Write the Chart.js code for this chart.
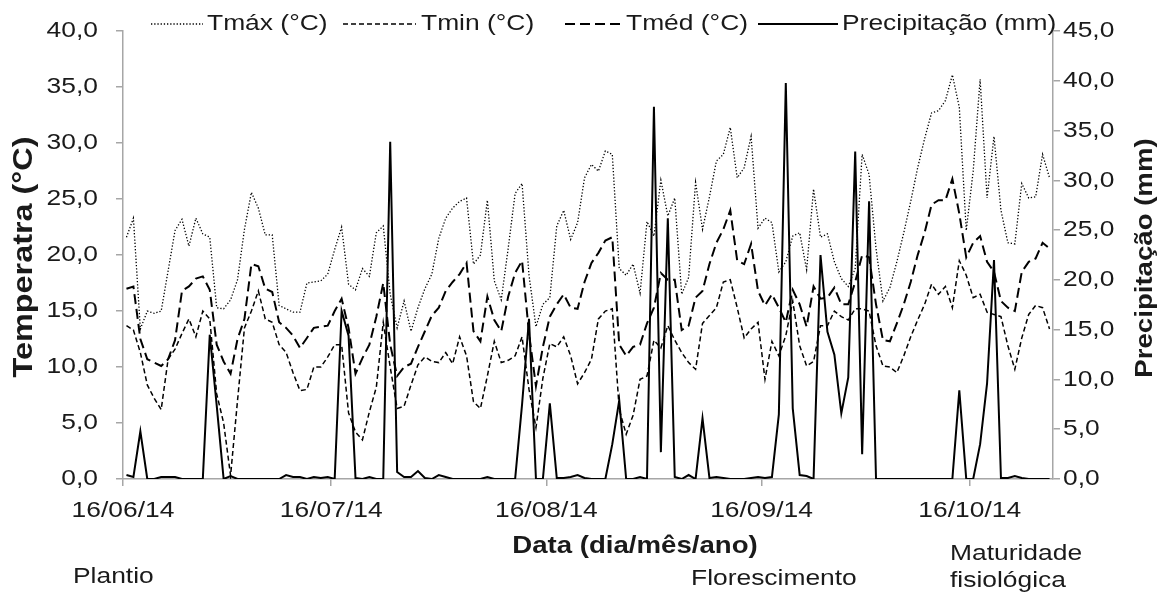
<!DOCTYPE html>
<html><head><meta charset="utf-8">
<script src="https://cdn.jsdelivr.net/npm/chart.js@4.4.1/dist/chart.umd.min.js"></script>
<style>html,body{margin:0;padding:0;background:#fff;}canvas{display:block;}</style>
</head><body>
<canvas id="c" width="1173" height="598"></canvas>
<script>
// ---------- DATA ----------
const startYear = 2014, startMonth = 6, startDay = 16;
const dayCount = 134;
const seriesNames = ['Tmáx (°C)', 'Tmin (°C)', 'Tméd (°C)', 'Precipitação (mm)'];
const tmax = [
21.6,23.3,13.4,15.0,14.8,15.0,18.6,22.2,23.2,20.8,
23.3,21.9,21.6,15.3,15.2,16.0,17.8,22.3,25.6,24.2,
21.8,21.8,15.5,15.2,14.9,14.9,17.5,17.6,17.7,18.3,
20.5,22.5,17.4,16.9,18.8,18.1,22.0,22.6,16.5,13.5,
15.9,13.2,15.3,17.0,18.3,21.5,23.3,24.2,24.8,25.1,
19.2,20.0,24.9,17.7,16.0,20.6,25.5,26.4,18.2,13.6,
15.6,16.2,22.6,24.0,21.4,22.9,26.9,28.1,27.5,29.3,
29.0,18.8,18.2,19.2,16.6,23.0,21.7,26.7,23.5,25.1,
16.5,18.0,26.5,22.3,25.2,28.4,29.0,31.4,26.9,27.8,
30.6,22.4,23.3,22.9,18.5,19.4,21.7,22.0,18.7,25.9,
21.6,21.9,19.4,17.9,17.2,18.8,29.0,27.2,20.6,15.9,
17.1,19.4,22.0,24.8,27.8,30.4,32.7,32.9,33.8,36.1,
33.2,22.2,27.5,35.7,25.1,30.6,24.0,21.1,21.0,26.4,
25.1,25.2,29.0,26.9];
const tmin = [
13.7,13.3,11.3,8.4,7.2,6.2,10.7,11.6,13.0,14.3,
12.7,15.0,14.3,7.6,5.0,0.3,7.0,13.5,15.0,16.8,
14.3,14.0,12.0,11.3,9.5,7.9,8.0,10.0,10.0,10.9,
12.0,12.0,5.9,4.2,3.5,6.0,8.2,14.0,10.0,6.3,
6.5,8.4,10.2,10.9,10.5,10.4,11.3,10.3,12.7,11.0,
6.9,6.3,9.2,12.3,10.4,10.6,11.0,12.7,8.0,4.6,
9.0,12.1,11.8,12.7,11.0,8.5,9.5,10.7,14.3,15.0,
15.2,6.2,4.0,5.7,8.9,9.2,12.4,11.7,13.7,12.4,
11.3,10.4,9.8,13.9,14.6,15.3,17.6,17.8,15.3,12.6,
13.4,14.0,8.9,12.3,11.0,12.8,15.9,11.9,10.1,10.5,
13.7,13.7,15.0,14.5,14.2,15.2,15.2,15.0,11.9,10.1,
10.0,9.5,11.0,12.7,14.2,15.6,17.4,16.5,17.2,15.3,
19.5,18.2,16.2,16.5,14.9,14.7,14.5,11.9,9.8,12.6,
14.7,15.5,15.3,13.4];
const tmed = [
17.0,17.2,12.5,10.7,10.4,10.1,10.7,12.4,16.8,17.2,
17.9,18.1,16.9,12.0,10.5,9.4,12.5,14.3,19.2,19.0,
17.0,16.7,14.0,13.5,12.8,11.7,12.6,13.5,13.6,13.7,
15.0,16.1,13.5,9.4,10.8,12.0,14.5,17.5,12.0,9.2,
10.0,10.3,11.8,13.2,14.6,15.3,16.8,17.6,18.3,19.3,
13.2,12.3,16.3,14.2,13.2,16.3,18.4,19.5,13.0,8.3,
11.8,14.5,15.6,16.5,15.3,15.2,17.6,19.3,20.2,21.3,
21.6,12.0,11.0,11.8,12.0,13.9,15.3,18.4,17.8,17.8,
13.3,13.7,16.2,16.8,19.2,21.1,22.3,24.0,19.5,19.2,
21.0,16.8,15.5,16.5,15.3,14.0,16.9,15.6,13.6,17.2,
16.1,16.2,17.1,15.6,15.6,17.6,20.0,19.8,15.6,12.4,
12.3,13.9,15.6,17.6,20.0,22.0,24.5,24.9,24.9,26.8,
23.7,19.8,21.1,21.7,19.4,18.5,15.9,15.3,15.0,18.5,
19.4,19.7,21.1,20.6];
const precip = [
0.4,0.2,4.8,0,0,0.2,0.2,0.2,0,0,
0,0,14.5,7.4,0,0.3,0,0,0,0,
0,0,0,0.4,0.2,0.2,0,0.2,0.1,0.2,
0,16.9,14.4,0.1,0,0.2,0,0,33.9,0.7,
0.2,0.2,0.8,0.1,0,0.4,0.2,0,0,0,
0,0,0.2,0,0,0,0,7.5,16.1,0,
0,7.6,0.1,0.1,0.2,0.4,0.1,0,0,0,
3.5,7.9,0,0,0.2,0,37.4,2.7,26.2,0.2,
0,0.4,0,6.1,0.1,0.2,0.1,0,0,0,
0.1,0.2,0.1,0.2,6.5,39.8,7.1,0.4,0.3,0,
22.5,14.8,12.5,6.6,10.2,32.9,2.5,27.9,0,0,
0,0,0,0,0,0,0,0,0,0,
8.9,0,0,3.5,9.6,22.0,0.1,0.1,0.3,0.1,
0,0,0,0];
const tickDay = 16;
const axisTitles = {x: 'Data (dia/mês/ano)', y: 'Temperatra (°C)', y1: 'Precipitação (mm)'};
const phaseNotes = ['Plantio', 'Florescimento', 'Maturidade', 'fisiológica'];

// categories (one per day)
const categories = Array.from({length: dayCount}, (_, i) => {
  const d = new Date(Date.UTC(startYear, startMonth - 1, startDay + i));
  return String(d.getUTCDate()).padStart(2,'0') + '/' + String(d.getUTCMonth()+1).padStart(2,'0') + '/' + String(d.getUTCFullYear()).slice(2);
});

// ---------- text stretch (reference text is horizontally widened) ----------
const SX = 1.2;
const nativeFillText = CanvasRenderingContext2D.prototype.fillText;
CanvasRenderingContext2D.prototype.fillText = function (t, x, y, mw) {
  this.save();
  this.translate(x, y);
  this.scale(SX, 1);
  if (mw === undefined) nativeFillText.call(this, t, 0, 0);
  else nativeFillText.call(this, t, 0, 0, mw / SX);
  this.restore();
};

const FONT = "'Liberation Sans', Arial, Helvetica, sans-serif";
const TXT = '#1a1a1a';
const AXIS = '#a6a6a6';
Chart.defaults.font.family = FONT;
Chart.defaults.color = TXT;

const toPts = arr => arr.map((v, i) => ({x: i + 0.5, y: v}));
const comma = v => Number(v).toFixed(1).replace('.', ',');

const styles = [
  {w: 1.3, dash: [1.3, 1.9]},
  {w: 1.5, dash: [5, 3]},
  {w: 2, dash: [10, 5]},
  {w: 2, dash: []}
];

const extras = {
  id: 'extras',
  afterDraw(chart) {
    const ctx = chart.ctx;
    ctx.save();
    ctx.fillStyle = TXT;
    ctx.textBaseline = 'middle';
    // legend
    const legendPos = [[151, 203, 207], [343, 416, 421], [565, 622, 626], [758, 838, 842]];
    ctx.font = '22px ' + FONT;
    ctx.textAlign = 'left';
    const ly = 24;
    legendPos.forEach((p, k) => {
      ctx.save();
      ctx.strokeStyle = '#000';
      ctx.lineWidth = styles[k].w;
      ctx.setLineDash(styles[k].dash);
      ctx.beginPath(); ctx.moveTo(p[0], ly); ctx.lineTo(p[1], ly); ctx.stroke();
      ctx.restore();
      ctx.fillText(seriesNames[k], p[2], ly);
    });
    // x title
    ctx.font = 'bold 23px ' + FONT;
    ctx.textAlign = 'center';
    ctx.fillText(axisTitles.x, 635, 547);
    // notes
    ctx.font = '22px ' + FONT;
    ctx.textAlign = 'left';
    ctx.fillText(phaseNotes[0], 73, 577);
    ctx.fillText(phaseNotes[1], 691, 579);
    ctx.fillText(phaseNotes[2], 950, 554);
    ctx.fillText(phaseNotes[3], 950, 581);
    // rotated titles
    ctx.textAlign = 'center';
    [[axisTitles.y, 25, 257, 27], [axisTitles.y1, 1146, 258, 23]].forEach(([t, cx, cy, fs]) => {
      ctx.save();
      ctx.font = 'bold ' + fs + 'px ' + FONT;
      ctx.translate(cx, cy);
      ctx.rotate(-Math.PI / 2);
      ctx.fillText(t, 0, 0);
      ctx.restore();
    });
    ctx.restore();
  }
};

new Chart(document.getElementById('c'), {
  type: 'line',
  data: {
    datasets: [
      {label: seriesNames[0], data: toPts(tmax), yAxisID: 'y', borderColor: '#000', borderWidth: styles[0].w, borderDash: styles[0].dash},
      {label: seriesNames[1], data: toPts(tmin), yAxisID: 'y', borderColor: '#000', borderWidth: styles[1].w, borderDash: styles[1].dash},
      {label: seriesNames[2], data: toPts(tmed), yAxisID: 'y', borderColor: '#000', borderWidth: styles[2].w, borderDash: styles[2].dash},
      {label: seriesNames[3], data: toPts(precip), yAxisID: 'y1', borderColor: '#000', borderWidth: styles[3].w}
    ]
  },
  options: {
    responsive: false,
    animation: false,
    devicePixelRatio: 1,
    layout: {padding: {top: 20, left: 0, right: 0, bottom: 0}},
    elements: {point: {radius: 0, hoverRadius: 0}, line: {tension: 0, fill: false}},
    plugins: {legend: {display: false}, tooltip: {enabled: false}},
    scales: {
      x: {
        type: 'linear', min: 0, max: dayCount,
        afterBuildTicks(s) { s.ticks = categories.map((c, i) => c.startsWith(String(tickDay) + '/') ? {value: i} : null).filter(Boolean); },
        ticks: {callback: v => categories[v], autoSkip: false, maxRotation: 0, padding: 12, color: TXT, font: {size: 22}},
        grid: {drawOnChartArea: false, drawTicks: true, tickLength: 7, color: AXIS, lineWidth: 1.5},
        border: {color: AXIS, width: 1.5},
        afterFit(s) { s.height = 119; }
      },
      y: {
        position: 'left', min: 0, max: 40,
        ticks: {stepSize: 5, callback: comma, padding: 18, color: TXT, font: {size: 22}},
        grid: {drawOnChartArea: false, drawTicks: true, tickLength: 7, color: AXIS, lineWidth: 1.5},
        border: {color: AXIS, width: 1.5},
        afterFit(s) { s.width = 123; }
      },
      y1: {
        position: 'right', min: 0, max: 45,
        ticks: {stepSize: 5, callback: comma, padding: 3, color: TXT, font: {size: 22}},
        grid: {drawOnChartArea: false, drawTicks: true, tickLength: 7, color: AXIS, lineWidth: 1.5},
        border: {color: AXIS, width: 1.5},
        afterFit(s) { s.width = 120; }
      }
    }
  },
  plugins: [extras]
});
</script>
</body></html>
